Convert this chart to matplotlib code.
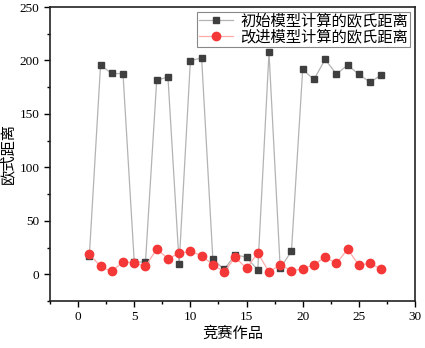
import matplotlib.pyplot as plt
from matplotlib.ticker import MultipleLocator

plt.rcParams['font.family'] = ['Liberation Serif', 'Noto Sans CJK SC']

works = list(range(1, 28))
initial_dist = [16.8, 195.4, 187.9, 187.6, 11.8, 11.1, 181.3, 184.7, 9.9, 199.8,
                202.3, 14.3, 4.5, 18.4, 15.8, 4.0, 207.6, 5.5, 21.8, 191.6,
                182.2, 201.0, 187.2, 195.7, 186.9, 179.7, 186.3]
improved_dist = [19.0, 7.3, 2.6, 11.8, 10.5, 7.3, 23.7, 14.6, 19.6, 21.5,
                 17.4, 8.9, 2.4, 15.8, 5.5, 20.0, 2.1, 8.9, 3.3, 4.9,
                 8.9, 16.2, 10.2, 23.4, 8.7, 10.2, 4.9]

fig = plt.figure(figsize=(4.25, 3.48), dpi=100)
ax = fig.add_axes([50 / 425, 1 - 301 / 348, 365 / 425, 294 / 348])

ax.plot(works, initial_dist, color='#b3b3b3', lw=0.9, marker='s', ms=5,
        mfc='#3f3f3f', mec='#3f3f3f', label='初始模型计算的欧氏距离')
ax.plot(works, improved_dist, color='#ffaaaa', lw=0.9, marker='o', ms=6,
        mfc='#f43838', mec='#f43838', label='改进模型计算的欧氏距离')

ax.set_xlim(-2.5, 30)
ax.set_ylim(-25, 250)
ax.xaxis.set_major_locator(MultipleLocator(5))
ax.xaxis.set_minor_locator(MultipleLocator(2.5))
ax.yaxis.set_major_locator(MultipleLocator(50))
ax.yaxis.set_minor_locator(MultipleLocator(25))
ax.tick_params(which='both', direction='out', labelsize=9.5, width=1)
ax.tick_params(which='major', length=4)
ax.tick_params(which='minor', length=2.5)
for s in ax.spines.values():
    s.set_linewidth(1.2)
    s.set_color('#222222')

ax.set_xlabel('竞赛作品', fontsize=11, labelpad=2)
ax.set_ylabel('欧式距离', fontsize=11)
ax.yaxis.set_label_coords(-0.095, 0.5)

leg = ax.legend(loc='upper right', fontsize=11, fancybox=False, framealpha=1,
                edgecolor='#888888', handlelength=2.2, borderpad=0.15,
                labelspacing=0.05, handletextpad=0.5, borderaxespad=0.3)
leg.get_frame().set_linewidth(0.8)

fig.savefig('out.png', dpi=100)
